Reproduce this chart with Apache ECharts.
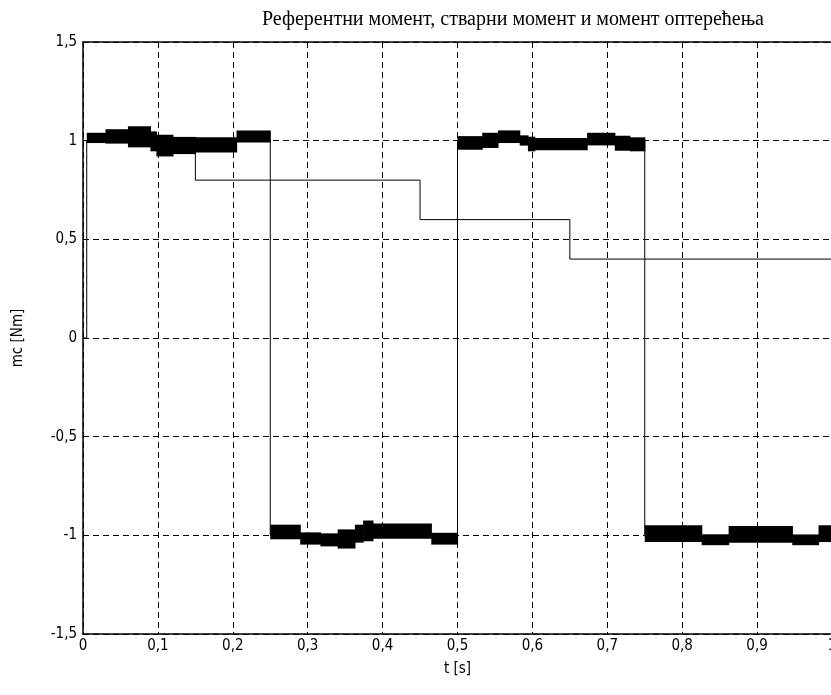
<!DOCTYPE html>
<html>
<head>
<meta charset="utf-8">
<script src="https://cdn.jsdelivr.net/npm/echarts@6/dist/echarts.min.js"></script>
<style>
html,body{margin:0;padding:0;background:#fff;}
#chart{width:831px;height:695px;}
</style>
</head>
<body>
<div id="chart"></div>
<script>
// Reference torque (thin step line)
const refT   = [0, 0.005, 0.005, 0.25, 0.25, 0.5, 0.5, 0.75, 0.75, 1.0];
const refV   = [0, 0,     1,     1,    -1,   -1,  1,   1,    -1,   -1];
// Load torque (thin step line)
const loadT  = [0, 0.15, 0.15, 0.45, 0.45, 0.65, 0.65, 1.0];
const loadV  = [1, 1,    0.8,  0.8,  0.6,  0.6,  0.4,  0.4];
// Actual torque: noisy band, read as blocks [start, end] with lower / upper envelope
const bandStart = [0.005, 0.03, 0.06, 0.09, 0.098, 0.12, 0.15, 0.205,
                   0.25, 0.29, 0.317, 0.34, 0.363, 0.374, 0.387, 0.465,
                   0.5, 0.533, 0.554, 0.583, 0.594, 0.603, 0.673, 0.71, 0.73,
                   0.75, 0.826, 0.862, 0.947, 0.982];
const bandEnd   = [0.03, 0.06, 0.09, 0.098, 0.12, 0.15, 0.205, 0.25,
                   0.29, 0.317, 0.34, 0.363, 0.374, 0.387, 0.465, 0.5,
                   0.533, 0.554, 0.583, 0.594, 0.603, 0.673, 0.71, 0.73, 0.75,
                   0.826, 0.862, 0.947, 0.982, 1.0];
const bandLo    = [0.988, 0.985, 0.966, 0.946, 0.92, 0.932, 0.94, 0.991,
                   -1.02, -1.047, -1.056, -1.067, -1.037, -1.03, -1.017, -1.047,
                   0.954, 0.963, 0.988, 0.975, 0.946, 0.951, 0.976, 0.949, 0.946,
                   -1.034, -1.05, -1.037, -1.05, -1.034];
const bandHi    = [1.04, 1.058, 1.073, 1.047, 1.03, 1.019, 1.017, 1.052,
                   -0.946, -0.985, -0.99, -0.97, -0.946, -0.925, -0.94, -0.987,
                   1.023, 1.04, 1.052, 1.027, 1.02, 1.014, 1.04, 1.025, 1.017,
                   -0.949, -0.995, -0.953, -0.996, -0.949];
const xTicks = [0, 0.1, 0.2, 0.3, 0.4, 0.5, 0.6, 0.7, 0.8, 0.9, 1];
const yTicks = [-1.5, -1, -0.5, 0, 0.5, 1, 1.5];

const titleText = 'Референтни момент, стварни момент и момент оптерећења';
const xName = 't [s]';
const yName = 'mc [Nm]';

const fmt = v => String(Math.round(v * 10) / 10).replace('.', ',');
const refData = refT.map((t, i) => [t, refV[i]]);
const loadData = loadT.map((t, i) => [t, loadV[i]]);
const bandData = bandStart.map((s, i) => [s, bandEnd[i], bandLo[i], bandHi[i]]);

const labelFont = {color: '#000', fontFamily: 'DejaVu Sans Condensed, DejaVu Sans, sans-serif', fontSize: 15};

const chart = echarts.init(document.getElementById('chart'), null, {renderer: 'canvas'});
chart.setOption({
  backgroundColor: '#fff',
  animation: false,
  title: {
    text: titleText,
    left: 508, top: 5, textAlign: 'center',
    textStyle: {color: '#000', fontFamily: 'Liberation Serif, serif', fontSize: 20, fontWeight: 'normal'}
  },
  grid: {left: 83, top: 42, right: -1, bottom: 61, outerBoundsMode: 'none', containLabel: false},
  xAxis: [{
    type: 'value', min: 0, max: 1, interval: 0.1,
    name: xName, nameLocation: 'middle', nameGap: 28,
    nameTextStyle: labelFont,
    axisLine: {show: true, onZero: false, lineStyle: {color: '#000', width: 1.5}},
    axisTick: {show: false},
    axisLabel: Object.assign({margin: 5, formatter: v => fmt(v)}, labelFont),
    splitLine: {show: true, lineStyle: {color: '#000', type: [6, 4], width: 1}}
  }, {
    type: 'value', min: 0, max: 1, position: 'top',
    axisLine: {show: true, onZero: false, lineStyle: {color: '#000', width: 1.5}},
    axisTick: {show: false}, axisLabel: {show: false}, splitLine: {show: false}
  }],
  yAxis: {
    type: 'value', min: -1.5, max: 1.5, interval: 0.5,
    name: yName, nameLocation: 'middle', nameGap: 57, nameRotate: 90,
    nameTextStyle: labelFont,
    axisLine: {show: true, onZero: false, lineStyle: {color: '#000', width: 1.5}},
    axisTick: {show: false},
    axisLabel: Object.assign({margin: 6, formatter: v => fmt(v)}, labelFont),
    splitLine: {show: true, lineStyle: {color: '#000', type: [6, 4], width: 1}}
  },
  series: [
    {
      type: 'line', data: loadData, showSymbol: false, symbol: 'none',
      lineStyle: {color: '#000', width: 1}, z: 3
    },
    {
      type: 'line', data: refData, showSymbol: false, symbol: 'none',
      lineStyle: {color: '#000', width: 1}, z: 3
    },
    {
      type: 'custom', data: bandData, z: 4, clip: true,
      encode: {x: [0, 1], y: [2, 3]},
      renderItem: function (params, api) {
        const p1 = api.coord([api.value(0), api.value(3)]);
        const p2 = api.coord([api.value(1), api.value(2)]);
        return {
          type: 'rect',
          shape: {x: p1[0], y: p1[1], width: p2[0] - p1[0] + 0.6, height: p2[1] - p1[1]},
          style: {fill: '#000'}
        };
      }
    }
  ]
});
</script>
</body>
</html>
